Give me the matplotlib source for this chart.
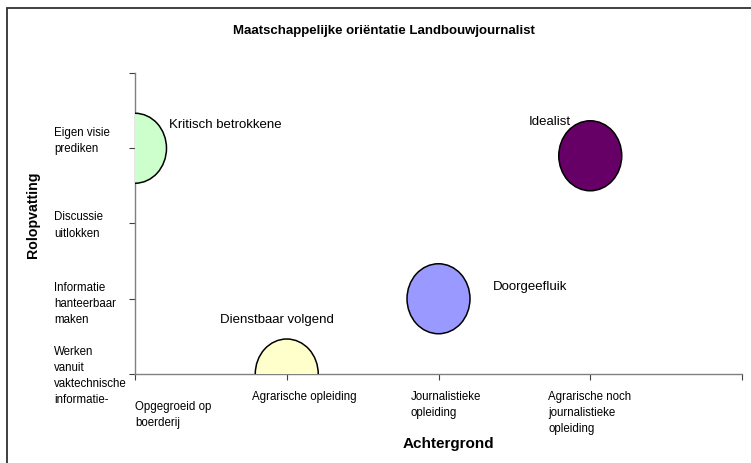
import matplotlib
matplotlib.use("Agg")
import matplotlib.pyplot as plt
from matplotlib.patches import Ellipse, Rectangle

plt.rcParams['font.family'] = ['Liberation Sans', 'DejaVu Sans']

# --- data ---
profielen = ["Kritisch betrokkene", "Dienstbaar volgend", "Doorgeefluik", "Idealist"]
achtergrond = [0, 1, 2, 3]          # x positie
rolopvatting = [3, 0, 1, 2.9]       # y positie
kleuren = ['#CCFFCC', '#FFFFCC', '#9999FF', '#660066']

x_labels = ["Opgegroeid op\nboerderij", "Agrarische opleiding",
            "Journalistieke\nopleiding", "Agrarische noch\njournalistieke\nopleiding"]
y_labels = ["Werken\nvanuit\nvaktechnische\ninformatie-", "Informatie\nhanteerbaar\nmaken",
            "Discussie\nuitlokken", "Eigen visie\nprediken"]

# offsets (pixels) of label text
label_offsets = [(34, 23, 'left'), (-10, 54, 'center'), (54, 12, 'left'), (-61, 34, 'left')]
xlab_dx = [0, -35, -28, -42]
xlab_top = [401, 391, 391, 391]
ylab_dy = [2, 5, 2, -7]

W, H = 751, 463
fig = plt.figure(figsize=(W / 100, H / 100), dpi=100)
ax = fig.add_axes([135 / W, 1 - 374 / H, 607 / W, 301 / H])
ax.set_xlim(0, 4)
ax.set_ylim(0, 4)

# bubbles
for x, y, c in zip(achtergrond, rolopvatting, kleuren):
    e = Ellipse((x, y), 0.415, 0.93, facecolor=c, edgecolor='black', linewidth=1.1, zorder=3)
    ax.add_patch(e)

for naam, x, y, (dx, dy, ha) in zip(profielen, achtergrond, rolopvatting, label_offsets):
    ax.annotate(naam, (x, y), xytext=(dx, dy), textcoords='offset pixels',
                ha=ha, va='center', fontsize=9.5, color='black', zorder=4)

for s in ['top', 'right']:
    ax.spines[s].set_visible(False)
for s in ['left', 'bottom']:
    ax.spines[s].set_color('#808080')
    ax.spines[s].set_linewidth(1.0)
ax.set_xticks(range(5))
ax.set_yticks(range(5))
ax.set_xticklabels([])
ax.set_yticklabels([])
ax.tick_params(direction='out', length=4, width=0.8, color='#404040')

# tick labels as text boxes (pixel positions)
px = lambda x, y: (x / W, 1 - y / H)
for i, lab in enumerate(x_labels):
    xp = 135 + i * 151.75 + xlab_dx[i]
    fig.text(*px(xp, xlab_top[i]), lab, ha='left', va='top', fontsize=8.3, linespacing=1.45)
for i, lab in enumerate(y_labels):
    yp = 374 - i * 75.25 + ylab_dy[i]
    fig.text(*px(54, yp), lab, ha='left', va='center', fontsize=8.3, linespacing=1.45)

fig.text(*px(384, 31), "Maatschappelijke oriëntatie Landbouwjournalist",
         ha='center', va='center', fontsize=9.5, fontweight='bold')
fig.text(*px(448, 444), "Achtergrond", ha='center', va='center', fontsize=11, fontweight='bold')
fig.text(*px(33, 215), "Rolopvatting", ha='center', va='center', rotation=90,
         fontsize=10.2, fontweight='bold')

# chart frame
fig.patches.append(Rectangle(px(7, 470), 760 / W, 462 / H, transform=fig.transFigure,
                             fill=False, edgecolor='#303030', linewidth=1.3))

fig.savefig("out.png", dpi=100)
